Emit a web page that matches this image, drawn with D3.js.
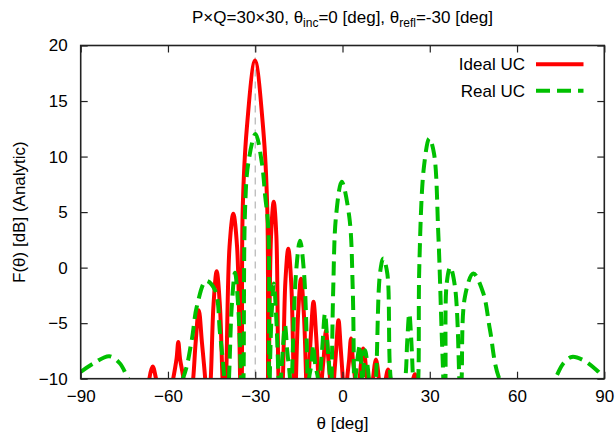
<!DOCTYPE html>
<html>
<head>
<meta charset="utf-8">
<script src="https://cdn.jsdelivr.net/npm/d3@7"></script>
<style>
  body { margin: 0; background: #fff; }
  svg text { font-family: "Liberation Sans", Arial, sans-serif; fill: #000; }
</style>
</head>
<body>
<div id="d3-container"></div>
<script>
/**
 * CONSTANTS
 * */
const width = 616,
  height = 438,
  margin = { top: 45.5, bottom: 59.3, left: 80.7, right: 11.7 };

const xTicks = [-90, -60, -30, 0, 30, 60, 90];
const yTicks = [-10, -5, 0, 5, 10, 15, 20];
const steerAngle = -30;

// points: [theta (deg), F (dB)]
// values at -14 are the nulls, they sit under the bottom axis and get clipped
const idealUC = [
  [-67, -14], [-66.4, -10], [-65.25, -8.9], [-64.1, -10], [-61.2, -14],
  [-58.2, -10], [-57.05, -8.2], [-56.45, -6.7], [-55.85, -8.2], [-54.66, -10], [-53, -14],
  [-51.33, -10], [-50.5, -6.8], [-49.4, -3.83], [-48.3, -6.8], [-47.2, -10], [-46.2, -14],
  [-45.28, -10], [-44.33, -3.3], [-43.25, -0.32], [-42.17, -3.3], [-41.26, -10], [-40.6, -14],
  [-40.0, -10], [-38.84, 1.86], [-37.54, 4.86], [-36.24, 1.86], [-35.2, -10], [-34.9, -14],
  [-34.6, -10], [-34.31, 5.18], [-32.94, 12.39], [-30.08, 18.65], [-27.23, 12.39], [-25.85, 5.18], [-25.6, -10], [-25.45, -14],
  [-25.3, -10], [-24.55, 2.93], [-23.65, 5.93], [-22.75, 2.93], [-22.0, -10], [-21.25, -14],
  [-20.5, -10], [-19.64, -1.29], [-18.64, 1.71], [-17.64, -1.29], [-16.8, -10], [-16.4, -14],
  [-16.0, -10], [-15.22, -3.99], [-14.27, -0.99], [-13.32, -3.99], [-12.5, -10], [-12.05, -14],
  [-11.6, -10], [-10.87, -6.08], [-9.97, -3.08], [-9.07, -6.08], [-8.3, -10], [-7.7, -14],
  [-7.1, -10], [-6.43, -8.0], [-5.68, -5.63], [-4.93, -8.0], [-4.3, -10], [-3.6, -14],
  [-2.9, -10], [-2.18, -7.4], [-1.38, -4.73], [-0.58, -7.4], [0.1, -10], [0.85, -14],
  [1.6, -10], [2.27, -8.3], [2.92, -6.38], [3.57, -8.3], [4.3, -10], [5.1, -14],
  [5.9, -10], [7.15, -7.28], [8.4, -10], [9.45, -14],
  [10.5, -10], [11.5, -8.27], [12.5, -10], [13.7, -14],
  [14.9, -10], [15.7, -9.17], [16.5, -10], [20.4, -14],
  [24.3, -10], [24.9, -9.6], [25.5, -10], [27, -14]
];

const realUC = [
  [-90, -9.39], [-85.67, -8.63], [-80.17, -7.97], [-76.5, -8.63], [-73.64, -10], [-64, -14],
  [-54.9, -10], [-51.84, -6.53], [-50.1, -3.53], [-46.93, -1.2], [-43.83, -2.03], [-42.1, -5.93], [-40.6, -10], [-39.8, -14],
  [-39.02, -10], [-38.06, -3.45], [-36.96, -0.45], [-35.86, -3.45], [-34.9, -10], [-34.45, -14],
  [-34.03, -10], [-33.5, 5.2], [-32.4, 9.4], [-29.91, 12.03], [-27.7, 9.4], [-26.6, 6.5], [-25.5, 3.5], [-25.3, -10], [-25.15, -14],
  [-25.0, -10], [-24.4, -4.4], [-23.6, -1.42], [-22.8, -4.4], [-22.0, -10], [-21.55, -14],
  [-21.14, -10], [-20.57, -7.6], [-19.77, -5.18], [-18.97, -7.6], [-18.05, -10], [-17.7, -14],
  [-17.36, -10], [-16.0, -0.57], [-14.61, 2.43], [-13.2, -0.57], [-12.03, -10], [-11.8, -14],
  [-11.52, -10], [-10.74, -8.8], [-10.04, -6.98], [-9.34, -8.8], [-8.43, -10], [-8.1, -14],
  [-7.74, -10], [-6.92, -7.1], [-6.02, -4.13], [-5.12, -7.1], [-4.3, -10], [-4.0, -14],
  [-3.72, -10], [-3.17, -1.73], [-2.24, 4.58], [-0.28, 7.73], [2.33, 4.58], [3.5, -1.73], [3.95, -10], [4.2, -14],
  [4.47, -10], [6.01, -6.98], [6.87, -10.5], [7.73, -7.43], [9.1, -10], [10.3, -14],
  [11.51, -10], [12.89, -0.52], [14.02, 0.83], [15.4, -0.52], [16.57, -10], [19.2, -14],
  [21.6, -10], [22.26, -6.6], [22.96, -4.13], [23.66, -6.6], [24.24, -10], [25.1, -14],
  [26.06, -10], [26.4, 0.07], [28.0, 9.08], [29.84, 11.64], [31.45, 10.29], [32.93, 3.08], [34.1, -5.93], [34.65, -10], [35.0, -14],
  [35.4, -10], [35.82, -1.42], [37.05, 0.05], [38.67, -1.73], [40.15, -10], [40.55, -14],
  [40.97, -10], [42.1, -2.6], [44.96, -0.52], [48.4, -2.3], [50.7, -5.6], [53.9, -10], [63, -14],
  [73.05, -10], [75.9, -8.63], [78.8, -8.04], [82.8, -8.33], [87.4, -9.23], [89.65, -9.84], [90, -9.9]
];

const seriesNames = ["Ideal UC", "Real UC"];
const seriesColors = ["#ff0000", "#00c000"];

/**
 * SCALES
 * */
const x = d3.scaleLinear([-90, 90], [margin.left, width - margin.right]);
const y = d3.scaleLinear([-10, 20], [height - margin.bottom, margin.top]);

const svg = d3.select("#d3-container")
  .append("svg")
  .attr("width", width)
  .attr("height", height);

svg.append("defs").append("clipPath")
  .attr("id", "plot-clip")
  .append("rect")
  .attr("x", x(-90))
  .attr("y", y(20))
  .attr("width", x(90) - x(-90))
  .attr("height", y(-10) - y(20));

const plot = svg.append("g").attr("clip-path", "url(#plot-clip)");

// steering direction marker
plot.append("line")
  .attr("x1", x(steerAngle)).attr("x2", x(steerAngle))
  .attr("y1", y(20)).attr("y2", y(-10))
  .attr("stroke", "#b4b4b4")
  .attr("stroke-width", 1.2)
  .attr("stroke-dasharray", "7,5");

const line = d3.line()
  .x(d => x(d[0]))
  .y(d => y(d[1]))
  .curve(d3.curveCatmullRom.alpha(0.5));

plot.append("path")
  .datum(idealUC)
  .attr("fill", "none")
  .attr("stroke", seriesColors[0])
  .attr("stroke-width", 4)
  .attr("stroke-linejoin", "round")
  .attr("d", line);

plot.append("path")
  .datum(realUC)
  .attr("fill", "none")
  .attr("stroke", seriesColors[1])
  .attr("stroke-width", 4)
  .attr("stroke-dasharray", "14,7")
  .attr("d", line);

/**
 * AXES (gnuplot style: ticks inside, mirrored)
 * */
const tickLen = -7;

const gx = svg.append("g")
  .attr("transform", `translate(0,${y(-10)})`)
  .call(d3.axisBottom(x).tickValues(xTicks).tickSize(tickLen).tickPadding(11));
const gxTop = svg.append("g")
  .attr("transform", `translate(0,${y(20)})`)
  .call(d3.axisTop(x).tickValues(xTicks).tickSize(tickLen).tickFormat(""));
const gy = svg.append("g")
  .attr("transform", `translate(${x(-90)},0)`)
  .call(d3.axisLeft(y).tickValues(yTicks).tickSize(tickLen).tickPadding(13));
const gyRight = svg.append("g")
  .attr("transform", `translate(${x(90)},0)`)
  .call(d3.axisRight(y).tickValues(yTicks).tickSize(tickLen).tickFormat(""));

[gx, gxTop, gy, gyRight].forEach(g => {
  g.select(".domain").remove();
  g.selectAll(".tick line").attr("stroke", "#222").attr("stroke-width", 1.2);
  g.selectAll(".tick text")
    .attr("fill", "#000")
    .style("font-size", "17px")
    .style("font-family", "'Liberation Sans', Arial, sans-serif");
});

svg.append("rect")
  .attr("x", x(-90))
  .attr("y", y(20))
  .attr("width", x(90) - x(-90))
  .attr("height", y(-10) - y(20))
  .attr("fill", "none")
  .attr("stroke", "#222")
  .attr("stroke-width", 1.6);

/**
 * LABELS
 * */
const title = svg.append("text")
  .attr("x", (x(-90) + x(90)) / 2)
  .attr("y", 23)
  .attr("text-anchor", "middle")
  .style("font-size", "17px");
title.append("tspan").text("P×Q=30×30, θ");
title.append("tspan").attr("dy", 4).style("font-size", "12px").text("inc");
title.append("tspan").attr("dy", -4).text("=0 [deg], θ");
title.append("tspan").attr("dy", 4).style("font-size", "12px").text("refl");
title.append("tspan").attr("dy", -4).text("=-30 [deg]");

svg.append("text")
  .attr("x", (x(-90) + x(90)) / 2)
  .attr("y", 429)
  .attr("text-anchor", "middle")
  .style("font-size", "17px")
  .text("θ [deg]");

svg.append("text")
  .attr("transform", `translate(19,${(y(20) + y(-10)) / 2}) rotate(-90)`)
  .attr("dy", "0.35em")
  .attr("text-anchor", "middle")
  .style("font-size", "17px")
  .text("F(θ) [dB] (Analytic)");

// legend
const legend = svg.append("g");
seriesNames.forEach((name, i) => {
  const ly = 64.3 + i * 26.4;
  legend.append("text")
    .attr("x", 525)
    .attr("y", ly)
    .attr("dy", "0.35em")
    .attr("text-anchor", "end")
    .style("font-size", "17px")
    .text(name);
  legend.append("line")
    .attr("x1", 536).attr("x2", 583.5)
    .attr("y1", ly).attr("y2", ly)
    .attr("stroke", seriesColors[i])
    .attr("stroke-width", 4)
    .attr("stroke-dasharray", i === 1 ? "14,7" : null);
});
</script>
</body>
</html>
